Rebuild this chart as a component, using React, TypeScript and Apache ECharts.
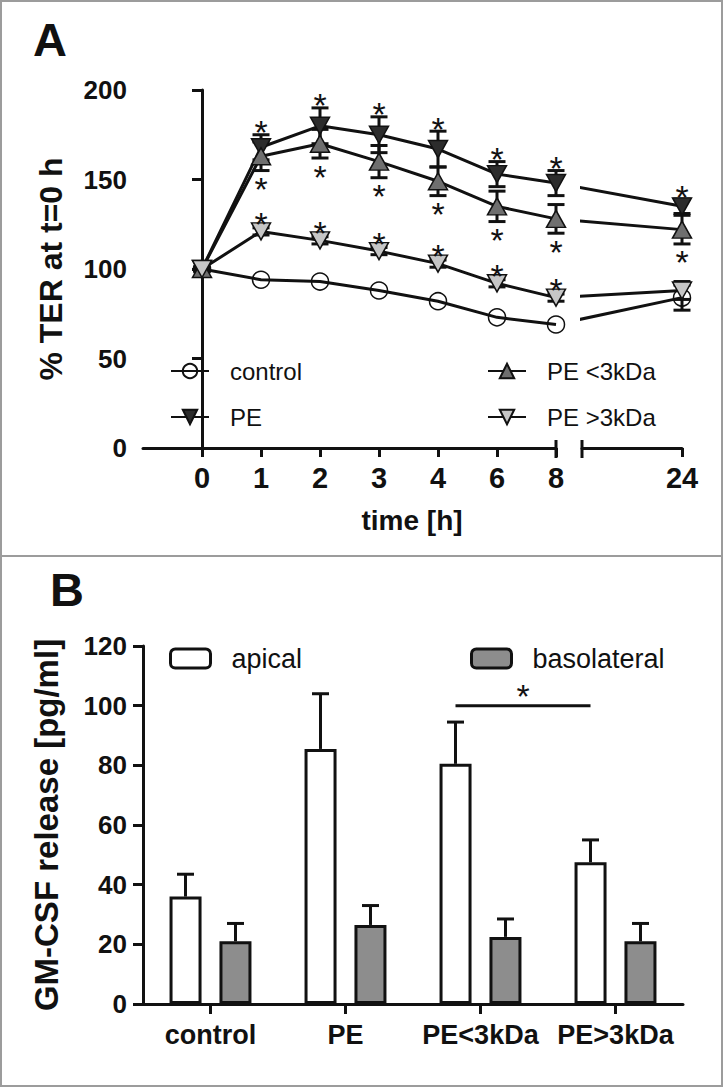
import React, { useEffect, useRef } from 'react';
import * as echarts from 'echarts';

// ---------- Panel A data ----------
const timeLabels = ['0', '1', '2', '3', '4', '6', '8', '24'];
const timeHours = [0, 1, 2, 3, 4, 6, 8, 24];
const controlMean = [100, 94, 93, 88, 82, 73, 69, 84];
const controlErr = [0, 0, 0, 0, 0, 0, 0, 7];
const peMean = [100, 168, 180, 175, 167, 153, 148, 135];
const peErr = [1, 7, 10, 10, 10, 7, 7, 4];
const peLowMean = [100, 163, 170, 160, 149, 135, 128, 122];
const peLowErr = [1, 8, 8, 9, 8, 8.5, 8, 8];
const peHighMean = [100, 121, 116, 110, 103, 92, 84, 88];
const peHighErr = [1, 2, 2, 2, 2, 2, 2, 5];
const peSig = [0, 1, 1, 1, 1, 1, 1, 1];
const peLowSig = [0, 1, 1, 1, 1, 1, 1, 1];
const peHighSig = [0, 1, 1, 1, 1, 1, 1, 0];
const yTicksA = [0, 50, 100, 150, 200];

// ---------- Panel B data ----------
const groups = ['control', 'PE', 'PE<3kDa', 'PE>3kDa'];
const apicalMean = [36, 85.5, 80.5, 47.5];
const apicalErr = [7.5, 18.5, 14, 7.5];
const basoMean = [21, 26.5, 22.5, 21];
const basoErr = [6, 6.5, 6, 6];
const sigPair = [2, 3];
const sigLevel = 100;
const yTicksB = [0, 20, 40, 60, 80, 100, 120];

const FONT = "'Liberation Sans', Arial, Helvetica, sans-serif";
const INK = '#111';

export default function App() {
  const ref = useRef<HTMLDivElement>(null);

  useEffect(() => {
    if (!ref.current) return;
    const chart = echarts.init(ref.current, null, { renderer: 'svg' });

    const NEAR = 7; // index of the 24 h point
    const posData = (arr: number[]) => arr.slice(0, NEAR).map((v, i) => [i, v]);
    const lateData = (arr: number[]) => [
      { value: [timeHours[NEAR - 1], arr[NEAR - 1]], symbol: 'none' },
      [timeHours[NEAR], arr[NEAR]],
    ];

    const downTri = 'path://M0,0 L20,0 L10,17 Z';
    const seriesDefs = [
      { name: 'control', mean: controlMean, err: controlErr, sig: null as number[] | null, symbol: 'circle', size: 17, fill: 'rgba(255,255,255,0)', sigMode: '' },
      { name: 'PE', mean: peMean, err: peErr, sig: peSig, symbol: downTri, size: [19, 17], fill: '#2c2c2c', sigMode: 'above' },
      { name: 'PE <3kDa', mean: peLowMean, err: peLowErr, sig: peLowSig, symbol: 'triangle', size: [19, 17], fill: '#6f6f6f', sigMode: 'below' },
      { name: 'PE >3kDa', mean: peHighMean, err: peHighErr, sig: peHighSig, symbol: downTri, size: [19, 17], fill: '#c6c6c6', sigMode: 'point' },
    ];

    const CAP = 17;
    const lineStyleInk = { stroke: INK, lineWidth: 3 };
    const errRender = (params: any, api: any) => {
      const x = api.value(0), y = api.value(1), e = api.value(2);
      if (!e) return null;
      const t = api.coord([x, y + e]);
      const b = api.coord([x, y - e]);
      return {
        type: 'group',
        children: [
          { type: 'line', shape: { x1: t[0], y1: t[1], x2: b[0], y2: b[1] }, style: lineStyleInk },
          { type: 'line', shape: { x1: t[0] - CAP / 2, y1: t[1], x2: t[0] + CAP / 2, y2: t[1] }, style: lineStyleInk },
          { type: 'line', shape: { x1: b[0] - CAP / 2, y1: b[1], x2: b[0] + CAP / 2, y2: b[1] }, style: lineStyleInk },
        ],
      };
    };
    const STAR_FS = 34;
    const starRender = (offset: number) => (params: any, api: any) => {
      const p = api.coord([api.value(0), api.value(1)]);
      return {
        type: 'text',
        x: p[0],
        y: p[1] + offset + STAR_FS * 0.22,
        style: { text: '*', font: `${STAR_FS}px ${FONT}`, fill: INK, align: 'center', verticalAlign: 'middle' },
      };
    };

    const series: any[] = [];
    seriesDefs.forEach((d) => {
      const common = {
        type: 'line',
        name: d.name,
        symbol: d.symbol,
        symbolSize: d.size,
        itemStyle: { color: d.fill, borderColor: INK, borderWidth: 1.5 },
        lineStyle: { color: INK, width: 3 },
        z: 4,
        emphasis: { disabled: true },
      };
      series.push({ ...common, xAxisIndex: 0, yAxisIndex: 0, data: posData(d.mean) });
      series.push({ ...common, xAxisIndex: 1, yAxisIndex: 1, data: lateData(d.mean), clip: true });
      // error bars
      series.push({
        type: 'custom', xAxisIndex: 0, yAxisIndex: 0, z: 2, renderItem: errRender,
        data: d.mean.slice(0, NEAR).map((v, i) => [i, v, d.err[i]]),
      });
      series.push({
        type: 'custom', xAxisIndex: 1, yAxisIndex: 1, z: 2, renderItem: errRender,
        data: [[timeHours[NEAR], d.mean[NEAR], d.err[NEAR]]],
      });
      if (d.sig) {
        const anchor = (i: number) =>
          d.sigMode === 'above' ? d.mean[i] + d.err[i] : d.sigMode === 'below' ? d.mean[i] - d.err[i] : d.mean[i];
        const offset = d.sigMode === 'above' ? -10 : d.sigMode === 'below' ? 11 : -15;
        const early: number[][] = [];
        for (let i = 0; i < NEAR; i++) if (d.sig[i]) early.push([i, anchor(i)]);
        series.push({ type: 'custom', xAxisIndex: 0, yAxisIndex: 0, z: 6, renderItem: starRender(offset), data: early });
        if (d.sig[NEAR]) {
          series.push({ type: 'custom', xAxisIndex: 1, yAxisIndex: 1, z: 6, renderItem: starRender(offset), data: [[timeHours[NEAR], anchor(NEAR)]] });
        }
      }
    });

    // Panel B
    const BAR_W = 32;
    const BAR_OFF = 25;
    series.push({
      type: 'bar', name: 'apical', xAxisIndex: 2, yAxisIndex: 2, data: apicalMean,
      barWidth: BAR_W, barGap: '56%', z: 3,
      itemStyle: { color: '#ffffff', borderColor: INK, borderWidth: 3 },
    });
    series.push({
      type: 'bar', name: 'basolateral', xAxisIndex: 2, yAxisIndex: 2, data: basoMean,
      barWidth: BAR_W, barGap: '56%', z: 3,
      itemStyle: { color: '#8d8d8d', borderColor: INK, borderWidth: 3 },
    });
    const barErrRender = (dx: number) => (params: any, api: any) => {
      const x = api.value(0), y = api.value(1), e = api.value(2);
      const b = api.coord([x, y]);
      const t = api.coord([x, y + e]);
      const cx = b[0] + dx;
      return {
        type: 'group',
        children: [
          { type: 'line', shape: { x1: cx, y1: b[1], x2: cx, y2: t[1] }, style: lineStyleInk },
          { type: 'line', shape: { x1: cx - CAP / 2, y1: t[1], x2: cx + CAP / 2, y2: t[1] }, style: lineStyleInk },
        ],
      };
    };
    series.push({
      type: 'custom', xAxisIndex: 2, yAxisIndex: 2, z: 4, renderItem: barErrRender(-BAR_OFF),
      data: apicalMean.map((v, i) => [i, v, apicalErr[i]]),
    });
    series.push({
      type: 'custom', xAxisIndex: 2, yAxisIndex: 2, z: 4, renderItem: barErrRender(BAR_OFF),
      data: basoMean.map((v, i) => [i, v, basoErr[i]]),
    });
    series.push({
      type: 'custom', xAxisIndex: 2, yAxisIndex: 2, z: 5,
      encode: { x: 0, y: 2 },
      data: [[sigPair[0], sigPair[1], sigLevel]],
      renderItem: (params: any, api: any) => {
        const a = api.coord([api.value(0), api.value(2)]);
        const b = api.coord([api.value(1), api.value(2)]);
        const x1 = a[0] - BAR_OFF, x2 = b[0] - BAR_OFF;
        return {
          type: 'group',
          children: [
            { type: 'line', shape: { x1, y1: a[1], x2, y2: a[1] }, style: lineStyleInk },
            {
              type: 'text', x: (x1 + x2) / 2, y: a[1] - 17 + STAR_FS * 0.22,
              style: { text: '*', font: `${STAR_FS}px ${FONT}`, fill: INK, align: 'center', verticalAlign: 'middle' },
            },
          ],
        };
      },
    });

    const axisLineInk = { show: true, lineStyle: { color: INK, width: 3 } };
    const tickInk = { show: true, length: 10, lineStyle: { color: INK, width: 3 } };
    const tickLabel = (size: number, margin: number) => ({
      color: INK, fontFamily: FONT, fontWeight: 'bold', fontSize: size, margin,
    });

    const legendText = (size: number) => ({
      color: INK, fontFamily: FONT, fontSize: size, padding: [0, 0, 0, 16], lineHeight: 22,
    });

    const option: any = {
      animation: false,
      backgroundColor: '#ffffff',
      grid: [
        { left: 143, top: 90, width: 413, height: 358 },
        { left: 582, top: 90, width: 100, height: 358 },
        { left: 143, top: 646, width: 540, height: 358 },
      ],
      xAxis: [
        {
          type: 'value', gridIndex: 0, min: -1, max: NEAR - 1,
          axisLine: axisLineInk,
          axisTick: { ...tickInk, length: 9, customValues: timeLabels.slice(0, NEAR).map((_, i) => i) },
          axisLabel: {
            ...tickLabel(29, 15),
            customValues: timeLabels.slice(0, NEAR).map((_, i) => i),
            formatter: (v: number) => timeLabels[Math.round(v)] ?? '',
          },
          splitLine: { show: false },
        },
        {
          type: 'value', gridIndex: 1, min: 11.3, max: timeHours[NEAR],
          axisLine: axisLineInk,
          axisTick: { ...tickInk, length: 9, customValues: [timeHours[NEAR]] },
          axisLabel: {
            ...tickLabel(29, 15),
            customValues: [timeHours[NEAR]],
            formatter: () => timeLabels[NEAR],
          },
          splitLine: { show: false },
        },
        {
          type: 'category', gridIndex: 2, data: groups,
          axisLine: axisLineInk,
          axisTick: { ...tickInk, alignWithLabel: true, interval: 0 },
          axisLabel: { ...tickLabel(27, 17), interval: 0, hideOverlap: false },
        },
      ],
      yAxis: [
        {
          type: 'value', gridIndex: 0, min: yTicksA[0], max: yTicksA[yTicksA.length - 1], interval: 50,
          axisLine: axisLineInk, axisTick: tickInk, axisLabel: tickLabel(26, 16),
          splitLine: { show: false },
          name: '% TER at t=0 h', nameLocation: 'middle', nameGap: 76, nameRotate: 90,
          nameTextStyle: { color: INK, fontFamily: FONT, fontWeight: 'bold', fontSize: 32 },
        },
        {
          type: 'value', gridIndex: 1, min: yTicksA[0], max: yTicksA[yTicksA.length - 1], show: false,
          splitLine: { show: false },
        },
        {
          type: 'value', gridIndex: 2, min: yTicksB[0], max: yTicksB[yTicksB.length - 1], interval: 20,
          axisLine: axisLineInk, axisTick: tickInk, axisLabel: tickLabel(26, 16),
          splitLine: { show: false },
          name: 'GM-CSF release [pg/ml]', nameLocation: 'middle', nameGap: 80, nameRotate: 90,
          nameTextStyle: { color: INK, fontFamily: FONT, fontWeight: 'bold', fontSize: 33 },
        },
      ],
      legend: [
        {
          data: ['control', 'PE'], orient: 'vertical', left: 170, top: 359, padding: 0,
          itemWidth: 38, itemHeight: 18, itemGap: 22, textStyle: legendText(24), selectedMode: false,
        },
        {
          data: ['PE <3kDa', 'PE >3kDa'], orient: 'vertical', left: 487, top: 359, padding: 0,
          itemWidth: 38, itemHeight: 18, itemGap: 22, textStyle: legendText(24), selectedMode: false,
        },
        {
          data: ['apical'], left: 169, top: 645, padding: 0, itemWidth: 40, itemHeight: 19,
          itemStyle: { borderColor: INK, borderWidth: 3 },
          textStyle: { ...legendText(27), padding: [0, 0, 0, 16] }, selectedMode: false,
        },
        {
          data: ['basolateral'], left: 470, top: 645, padding: 0, itemWidth: 40, itemHeight: 19,
          itemStyle: { borderColor: INK, borderWidth: 3 },
          textStyle: { ...legendText(27), padding: [0, 0, 0, 16] }, selectedMode: false,
        },
      ],
      graphic: [
        { type: 'rect', shape: { x: 1, y: 1, width: 721, height: 1085 }, style: { fill: 'none', stroke: '#9c9c9c', lineWidth: 2 }, silent: true },
        { type: 'line', shape: { x1: 0, y1: 556, x2: 723, y2: 556 }, style: { stroke: '#9c9c9c', lineWidth: 2 }, silent: true },
        { type: 'text', left: 33, top: 16, style: { text: 'A', font: `bold 47px ${FONT}`, fill: INK } },
        { type: 'text', left: 50, top: 566, style: { text: 'B', font: `bold 47px ${FONT}`, fill: INK } },
        { type: 'text', x: 412, y: 520, style: { text: 'time [h]', font: `bold 28px ${FONT}`, fill: INK, align: 'center', verticalAlign: 'middle' } },
        { type: 'line', shape: { x1: 556, y1: 440, x2: 556, y2: 458 }, style: { stroke: INK, lineWidth: 3 } },
        { type: 'line', shape: { x1: 582, y1: 440, x2: 582, y2: 458 }, style: { stroke: INK, lineWidth: 3 } },
      ],
      series,
    };

    chart.setOption(option);
    return () => chart.dispose();
  }, []);

  return (
    <div
      ref={ref}
      style={{ position: 'absolute', left: 0, top: 0, width: 723, height: 1087, background: '#fff' }}
    />
  );
}
